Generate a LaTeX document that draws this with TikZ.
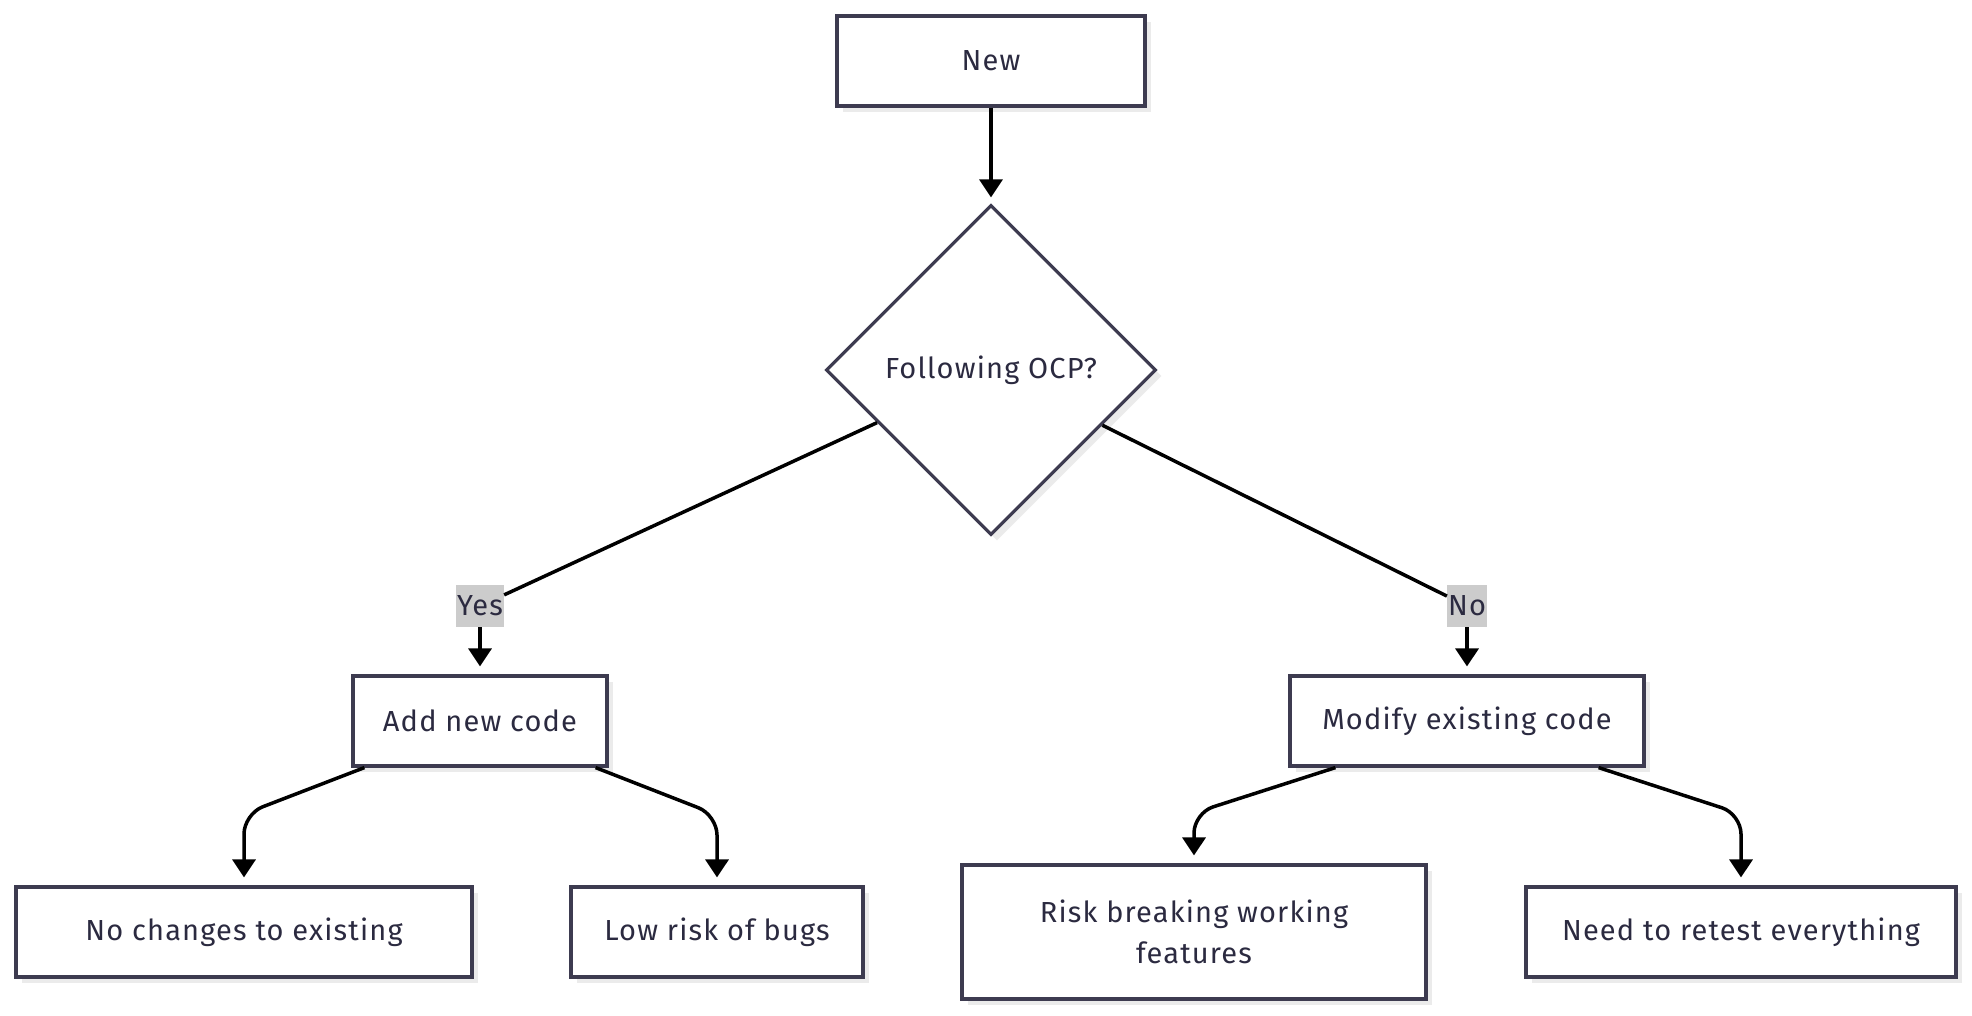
\documentclass[tikz,border=0pt]{standalone}
\usepackage{fontspec}
\setmainfont{Fira Sans}[LetterSpace=4]
\usetikzlibrary{arrows.meta,shapes.geometric,shadows,calc}
\definecolor{txt}{HTML}{2B2A40}
\definecolor{brd}{HTML}{3D3B50}
\definecolor{lbl}{HTML}{CCCCCC}
\begin{document}
\begin{tikzpicture}[x=1pt,y=-1pt,
  shad/.style={drop shadow={shadow xshift=6pt, shadow yshift=-6pt, fill=black, opacity=0.08}},
  box/.style={shad, draw=brd, line width=3.2pt, fill=white, text=txt,
    font=\fontsize{29}{41}\selectfont, minimum height=90pt, inner sep=0pt, align=center},
  dec/.style={shad, diamond, draw=brd, line width=3.2pt, fill=white, text=txt,
    font=\fontsize{29}{41}\selectfont, minimum width=330pt, minimum height=330pt, inner sep=0pt},
  lab/.style={fill=lbl, text=txt, font=\fontsize{29}{41}\selectfont, inner xsep=1pt, inner ysep=0pt, minimum height=42pt},
  conn/.style={draw=black, line width=3.5pt},
  arr/.style={conn, -{Triangle[length=18pt,width=23pt]}, shorten >=8pt}
]
\useasboundingbox (0,0) rectangle (1972,1015);

\node[box, minimum width=308pt] (new) at (991,61) {New};
\node[dec] (dia) at (991,370) {Following OCP?};
\node[box, minimum width=254pt] (add) at (480,721) {Add new code};
\node[box, minimum width=354pt] (mod) at (1467,721) {Modify existing code};
\node[box, minimum width=456pt] (noc) at (244,932) {No changes to existing};
\node[box, minimum width=292pt] (low) at (717,932) {Low risk of bugs};
\node[box, minimum width=464pt, minimum height=134pt] (risk) at (1194,932) {Risk breaking working\\features};
\node[box, minimum width=430pt] (need) at (1741,932) {Need to retest everything};

\node[lab] (yes) at (480,606) {Yes};
\node[lab] (no) at (1467,606) {No};

\draw[arr, shorten >=6pt] (new) -- (dia);
\draw[conn] (dia) -- (yes);
\draw[conn] (dia) -- (no);
\draw[arr] (yes) -- (add);
\draw[arr] (no) -- (mod);

\coordinate (c1) at (244,814);
\coordinate (c2) at (717,815);
\coordinate (c3) at (1194,813);
\coordinate (c4) at (1741,814);
\draw[arr, rounded corners=20pt] ($(add.south west)+(13,0)$) -- (c1) -- (noc);
\draw[arr, rounded corners=20pt] ($(add.south east)+(-13,0)$) -- (c2) -- (low);
\draw[arr, rounded corners=20pt] ($(mod.south west)+(47,0)$) -- (c3) -- (risk);
\draw[arr, rounded corners=20pt] ($(mod.south east)+(-47,0)$) -- (c4) -- (need);
\end{tikzpicture}
\end{document}
